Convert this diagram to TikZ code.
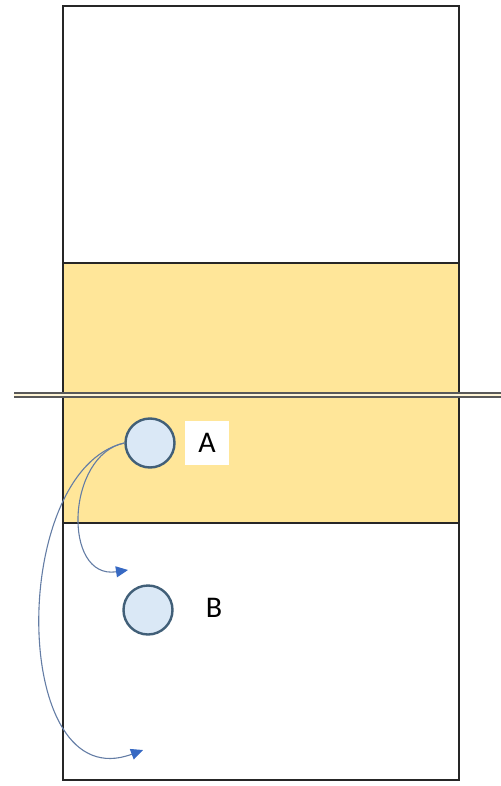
\documentclass[tikz,border=0pt]{standalone}
\usepackage{fontspec}
\setmainfont{Carlito}
\usetikzlibrary{arrows.meta, positioning}
\definecolor{zonecolor}{RGB}{255,230,153}
\definecolor{playerfill}{RGB}{218,232,246}
\definecolor{playerline}{RGB}{65,95,120}
\definecolor{movecolor}{RGB}{100,125,165}
\definecolor{tipcolor}{RGB}{55,105,195}

\begin{document}
\begin{tikzpicture}[x=0.5pt, y=-0.5pt,
    court/.style={draw=black!85, line width=0.8pt},
    player/.style={circle, draw=playerline, fill=playerfill, line width=1.2pt, minimum size=24.5pt, inner sep=0pt},
    tag/.style={font=\fontsize{15}{17}\selectfont, inner sep=2pt, minimum width=22pt, minimum height=22pt},
    move/.style={draw=movecolor, line width=0.55pt, -{Triangle[length=6pt, width=5.5pt, fill=tipcolor, color=tipcolor]}}
]
\useasboundingbox (0,0) rectangle (501,786);
% court and attack zone
\fill[zonecolor] (63,263) rectangle (459,523);
\draw[court] (63,6) rectangle (459,780);
\draw[court] (63,263) -- (459,263);
\draw[court] (63,523) -- (459,523);
% net
\coordinate (netL) at (14,395);
\coordinate (netR) at (501,395);
\draw[draw=black!65, double=zonecolor!40!white, double distance=1pt, line width=0.9pt] (netL) -- (netR);
% players
\node[player] (A) at (150,443) {};
\node[player] (B) at (148,610) {};
\node[tag, fill=white] (labA) at (207,443) {A};
\node[tag] (labB) at (214,608) {B};
% moves
\coordinate (tip1) at (128,570);
\coordinate (tip2) at (143,750);
\draw[move] (A.west) .. controls (66,455) and (62,580) .. (tip1);
\draw[move] (A.west) .. controls (8,470) and (10,800) .. (tip2);
\end{tikzpicture}
\end{document}
